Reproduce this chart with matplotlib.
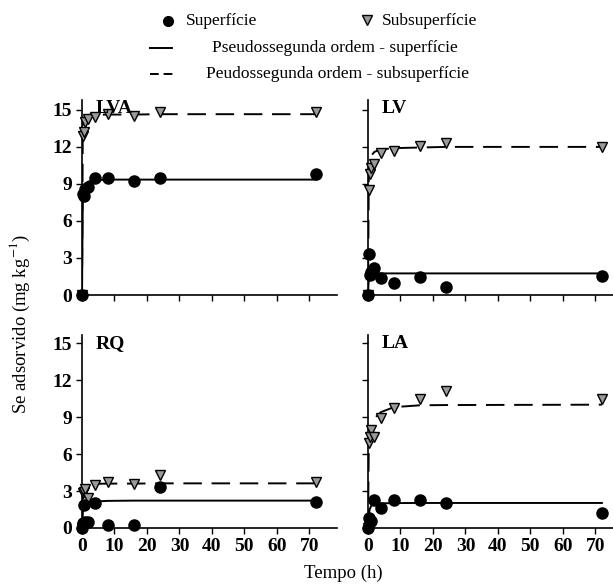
import matplotlib
matplotlib.use('Agg')
from matplotlib import pyplot as plt
from matplotlib.lines import Line2D

plt.rcParams['font.family'] = ['Liberation Serif', 'DejaVu Serif']
plt.rcParams['mathtext.fontset'] = 'stix'

# sampling times (h)
tempo = [0, 0.25, 0.5, 1, 2, 4, 8, 16, 24, 72]

# LVA
lva_sup = [0, 8.2, 8.05, 8.6, 8.75, 9.5, 9.5, 9.2, 9.5, 9.8]
lva_sub = [0, 12.9, 13.2, 14.0, 14.3, 14.4, 14.7, 14.5, 14.8, 14.8]
lva_sup_fit = [0, 7.9, 8.6, 9.0, 9.2, 9.3, 9.35, 9.35, 9.35, 9.35]
lva_sub_fit = [0, 13.9, 14.3, 14.5, 14.6, 14.6, 14.62, 14.62, 14.65, 14.65]

# LV
lv_sup = [0, 3.3, 1.6, 1.85, 2.2, 1.35, 1.0, 1.45, 0.68, 1.5]
lv_sub = [0, 8.5, 9.8, 10.3, 10.6, 11.5, 11.7, 12.1, 12.3, 12.0]
lv_sup_fit = [0, 1.6, 1.7, 1.72, 1.75, 1.75, 1.75, 1.75, 1.75, 1.75]
lv_sub_fit = [0, 9.9, 10.7, 11.3, 11.6, 11.8, 11.9, 11.95, 12.0, 12.0]

# RQ
rq_sup = [0, 0.4, 1.85, 0.5, 0.5, 2.0, 0.25, 0.25, 3.3, 2.1]
rq_sub = [0, 2.8, 2.95, 3.15, 2.4, 3.45, 3.75, 3.55, 4.3, 3.75]
rq_sup_fit = [0, 1.3, 1.7, 1.95, 2.1, 2.15, 2.2, 2.22, 2.22, 2.22]
rq_sub_fit = [0, 2.9, 3.2, 3.4, 3.5, 3.58, 3.6, 3.6, 3.62, 3.62]

# LA
la_sup = [0, 0.8, 0.45, 0.6, 2.25, 1.65, 2.25, 2.25, 2.05, 1.2]
la_sub = [0, 6.9, 7.4, 7.95, 7.35, 8.95, 9.7, 10.5, 11.1, 10.5]
la_sup_fit = [0, 1.0, 1.5, 1.8, 1.95, 2.0, 2.02, 2.03, 2.03, 2.03]
la_sub_fit = [0, 7.0, 7.6, 8.3, 8.9, 9.4, 9.8, 9.95, 9.97, 10.0]

paineis = ['LVA', 'LV', 'RQ', 'LA']
sup = [lva_sup, lv_sup, rq_sup, la_sup]
sub = [lva_sub, lv_sub, rq_sub, la_sub]
sup_fit = [lva_sup_fit, lv_sup_fit, rq_sup_fit, la_sup_fit]
sub_fit = [lva_sub_fit, lv_sub_fit, rq_sub_fit, la_sub_fit]

xticks = [0, 10, 20, 30, 40, 50, 60, 70]
yticks = [0, 3, 6, 9, 12, 15]

W, H = 613, 586
fig = plt.figure(figsize=(W / 100, H / 100), dpi=100)


def add_axes_px(x0, y_top, x1, y_bottom):
    return fig.add_axes([x0 / W, 1 - y_bottom / H, (x1 - x0) / W, (y_bottom - y_top) / H])


# panel boxes in pixels: (left, top, right, bottom)
boxes = [(82, 100, 337, 295), (368, 100, 623, 295),
         (82, 335, 337, 528), (368, 335, 623, 528)]
ytops = [15.8, 15.8, 15.65, 15.65]

for i, nome in enumerate(paineis):
    ax = add_axes_px(*boxes[i])
    ax.plot(tempo, sup_fit[i], color='black', lw=1.4, zorder=2)
    ax.plot(tempo, sub_fit[i], color='black', lw=1.4, ls=(0, (9.5, 5)), zorder=2)
    ax.plot(tempo, sub[i], ls='none', marker='v', ms=7.5, mfc='#9a9a9a', mec='black',
            mew=1.0, clip_on=False, zorder=3)
    ax.plot(tempo, sup[i], ls='none', marker='o', ms=8, mfc='black', mec='black',
            clip_on=False, zorder=4)
    ax.set_xlim(0, 78.5)
    ax.set_ylim(0, ytops[i])
    ax.set_xticks(xticks)
    ax.set_yticks(yticks)
    for s in ['top', 'right']:
        ax.spines[s].set_visible(False)
    for s in ['left', 'bottom']:
        ax.spines[s].set_linewidth(1.2)
    ax.tick_params(direction='out', length=4, width=1.0, labelsize=14, pad=3)
    for lab in ax.get_xticklabels() + ax.get_yticklabels():
        lab.set_fontweight('bold')
    if i < 2:
        ax.tick_params(labelbottom=False)
    if i % 2 == 1:
        ax.tick_params(labelleft=False)
    ax.text(0.055, 1.0, nome, transform=ax.transAxes, fontsize=14, fontweight='bold',
            va='top', ha='left')

# legend (figure pixels)
def fx(x):
    return x / W


def fy(y):
    return 1 - y / H


fig.add_artist(Line2D([fx(168)], [fy(21)], marker='o', ms=7, color='black',
                      transform=fig.transFigure))
fig.text(fx(186), fy(21), 'Superfície', fontsize=12.5, va='center')
fig.add_artist(Line2D([fx(367)], [fy(20)], marker='v', ms=6.5, mfc='#9a9a9a', mec='black',
                      mew=1.0, ls='none', transform=fig.transFigure))
fig.text(fx(382), fy(21), 'Subsuperfície', fontsize=12.5, va='center')
fig.add_artist(Line2D([fx(150), fx(172)], [fy(48), fy(48)], color='black', lw=1.4,
                      transform=fig.transFigure))
fig.text(fx(212), fy(48), 'Pseudossegunda ordem - superfície', fontsize=12.5, va='center')
fig.add_artist(Line2D([fx(150), fx(174)], [fy(74), fy(74)], color='black', lw=1.4,
                      ls=(0, (4.5, 2.5)), transform=fig.transFigure))
fig.text(fx(206), fy(74), 'Peudossegunda ordem - subsuperfície', fontsize=12.5, va='center')

fig.text(fx(20), fy(324), 'Se adsorvido (mg kg$^{\\mathrm{-1}}$)', fontsize=13.5, rotation=90,
         ha='center', va='center')
fig.text(fx(343), fy(573), 'Tempo (h)', fontsize=13.5, ha='center', va='center')

fig.savefig('out.png', dpi=100)
